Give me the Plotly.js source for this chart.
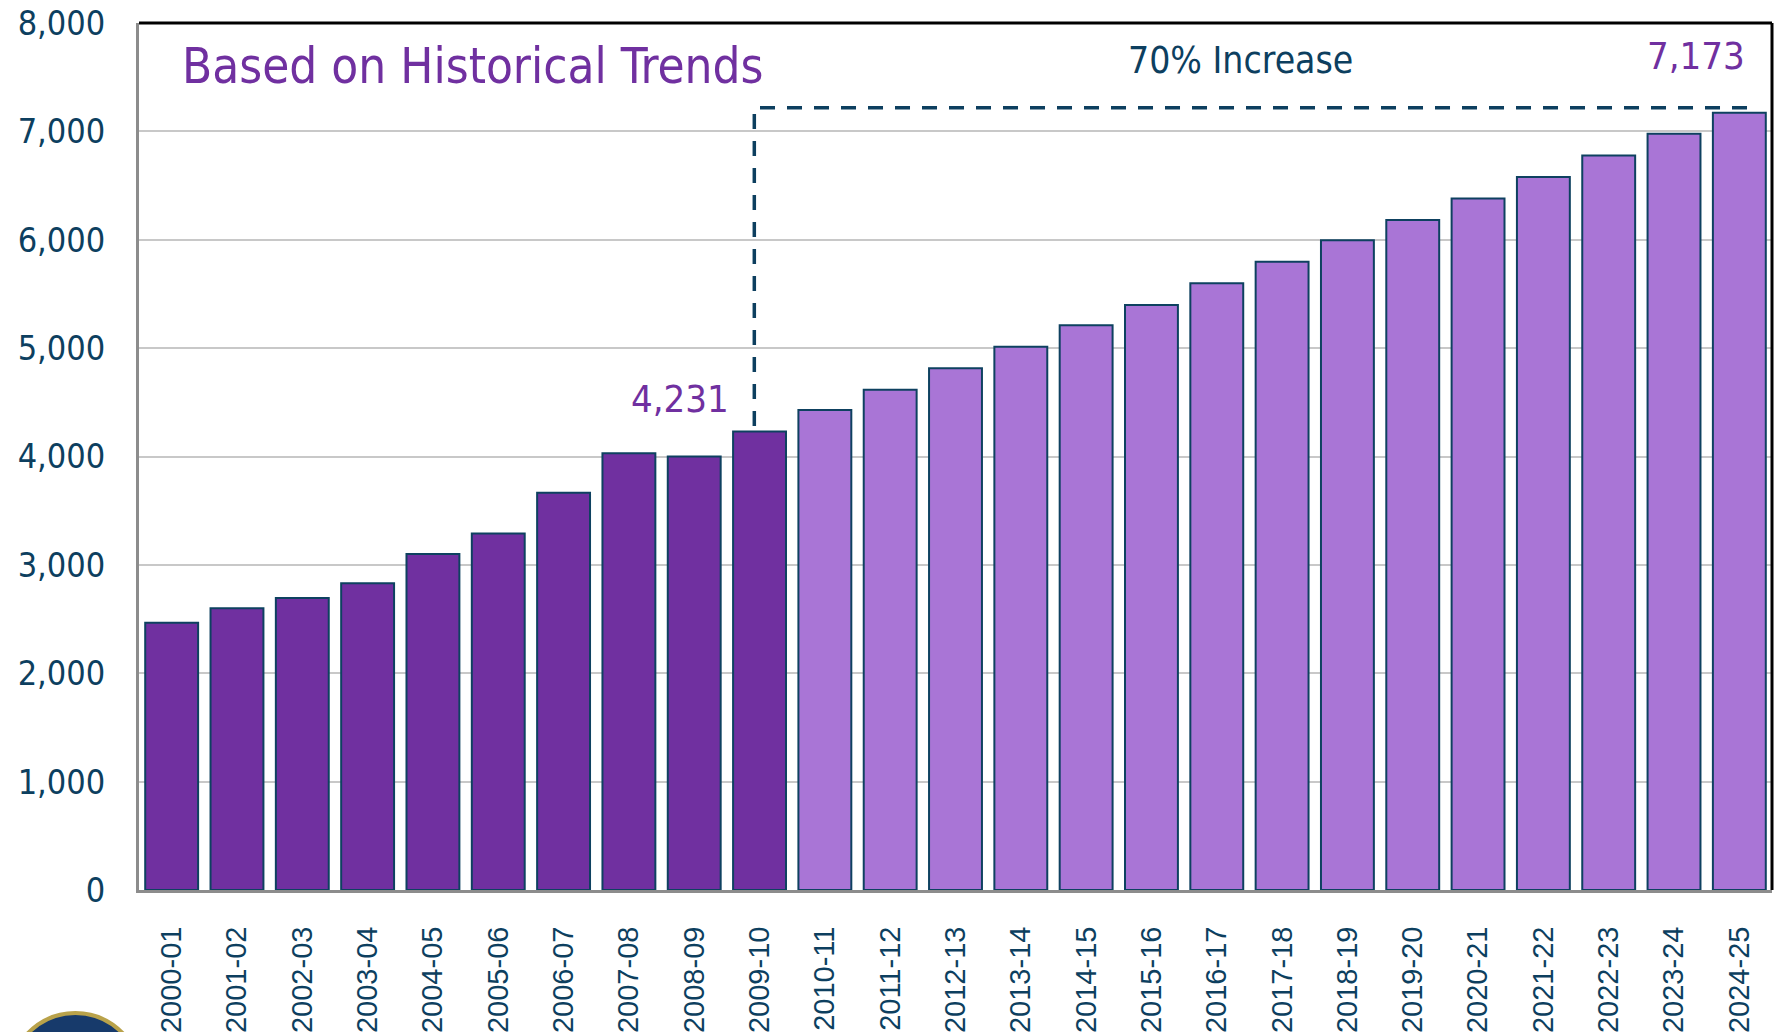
<!DOCTYPE html>
<html>
<head>
<meta charset="utf-8">
<script src="https://cdn.plot.ly/plotly-3.0.1.min.js"></script>
<style>html,body{margin:0;padding:0;background:#fff;}#chart{width:1775px;height:1032px;}</style>
</head>
<body>
<div id="chart"></div>
<script>
const categories = ["2000-01","2001-02","2002-03","2003-04","2004-05","2005-06","2006-07","2007-08","2008-09","2009-10",
  "2010-11","2011-12","2012-13","2013-14","2014-15","2015-16","2016-17","2017-18","2018-19","2019-20",
  "2020-21","2021-22","2022-23","2023-24","2024-25"];
const values = [2465,2600,2695,2830,3100,3290,3665,4030,4000,4231,
  4428,4616,4815,5013,5211,5399,5598,5796,5995,6183,
  6381,6580,6778,6977,7173];
const historicalCount = 10; // 2000-01 .. 2009-10 actual
const yTicks = [0,1000,2000,3000,4000,5000,6000,7000,8000];
const yTickText = ["0","1,000","2,000","3,000","4,000","5,000","6,000","7,000","8,000"];
const startLabel = "4,231";
const endLabel = "7,173";
const increaseLabel = "70% Increase";
const chartTitle = "Based on Historical Trends";

const DARK = "#7030A0", LIGHT = "#A975D6", EDGE = "#0E4160", TEXT = "#0D3F5F";
const FONT = "'DejaVu Sans Condensed', 'Liberation Sans Narrow', sans-serif";

const colors = categories.map((c, i) => i < historicalCount ? DARK : LIGHT);

const trace = {
  type: "bar",
  x: categories,
  y: values,
  marker: { color: colors, line: { color: EDGE, width: 2 } },
  hoverinfo: "x+y"
};

const startVal = values[historicalCount - 1];
const dashTop = 7218;

const layout = {
  width: 1775, height: 1032,
  margin: { l: 139, r: 3, t: 23, b: 142 },
  paper_bgcolor: "#fff", plot_bgcolor: "#fff",
  bargap: 0.19,
  showlegend: false,
  xaxis: {
    type: "category",
    range: [-0.5, 24.5],
    tickangle: -90,
    tickfont: { family: "'Liberation Sans', Arial, sans-serif", size: 29, color: TEXT },
    ticks: "",
    ticklabelstandoff: 22,
    showline: true, linecolor: "#8C8C8C", linewidth: 3,
    showgrid: false, zeroline: false
  },
  yaxis: {
    range: [0, 8000],
    tickvals: yTicks, ticktext: yTickText,
    tickfont: { family: FONT, size: 34, color: TEXT },
    ticks: "",
    ticklabelstandoff: 24,
    showgrid: true, gridcolor: "#C8C8C8", gridwidth: 2,
    showline: true, linecolor: "#8C8C8C", linewidth: 3,
    zeroline: false
  },
  shapes: [
    { type: "line", xref: "paper", yref: "paper", x0: 0, x1: 1, y0: 1, y1: 1, line: { color: "#000", width: 3 } },
    { type: "line", xref: "paper", yref: "paper", x0: 1, x1: 1, y0: 0, y1: 1, line: { color: "#000", width: 3 } },
    { type: "path", xref: "x", yref: "y",
      path: `M 8.92,${startVal + 50} L 8.92,${dashTop} L 24.15,${dashTop}`,
      line: { color: TEXT, width: 3.5, dash: "15px,12px" } },
    { type: "circle", xref: "paper", yref: "paper", x0: -0.08, x1: 0.002, y0: -0.3, y1: -0.142,
      fillcolor: "#173A6B", line: { color: "#B9A24A", width: 4 } }
  ],
  annotations: [
    { text: chartTitle, xref: "paper", yref: "y", x: 0.025, y: 7600, xanchor: "left", yanchor: "middle",
      showarrow: false, font: { family: FONT, size: 49, color: DARK } },
    { text: increaseLabel, xref: "x", yref: "y", x: 16.36, y: 7655, xanchor: "center", yanchor: "middle",
      showarrow: false, font: { family: FONT, size: 37, color: TEXT } },
    { text: endLabel, xref: "x", yref: "y", x: 23.33, y: 7700, xanchor: "center", yanchor: "middle",
      showarrow: false, font: { family: FONT, size: 38, color: DARK } },
    { text: startLabel, xref: "x", yref: "y", x: 7.78, y: 4530, xanchor: "center", yanchor: "middle",
      showarrow: false, font: { family: FONT, size: 38, color: DARK } }
  ]
};

Plotly.newPlot("chart", [trace], layout, { displayModeBar: false, staticPlot: true });
</script>
</body>
</html>
